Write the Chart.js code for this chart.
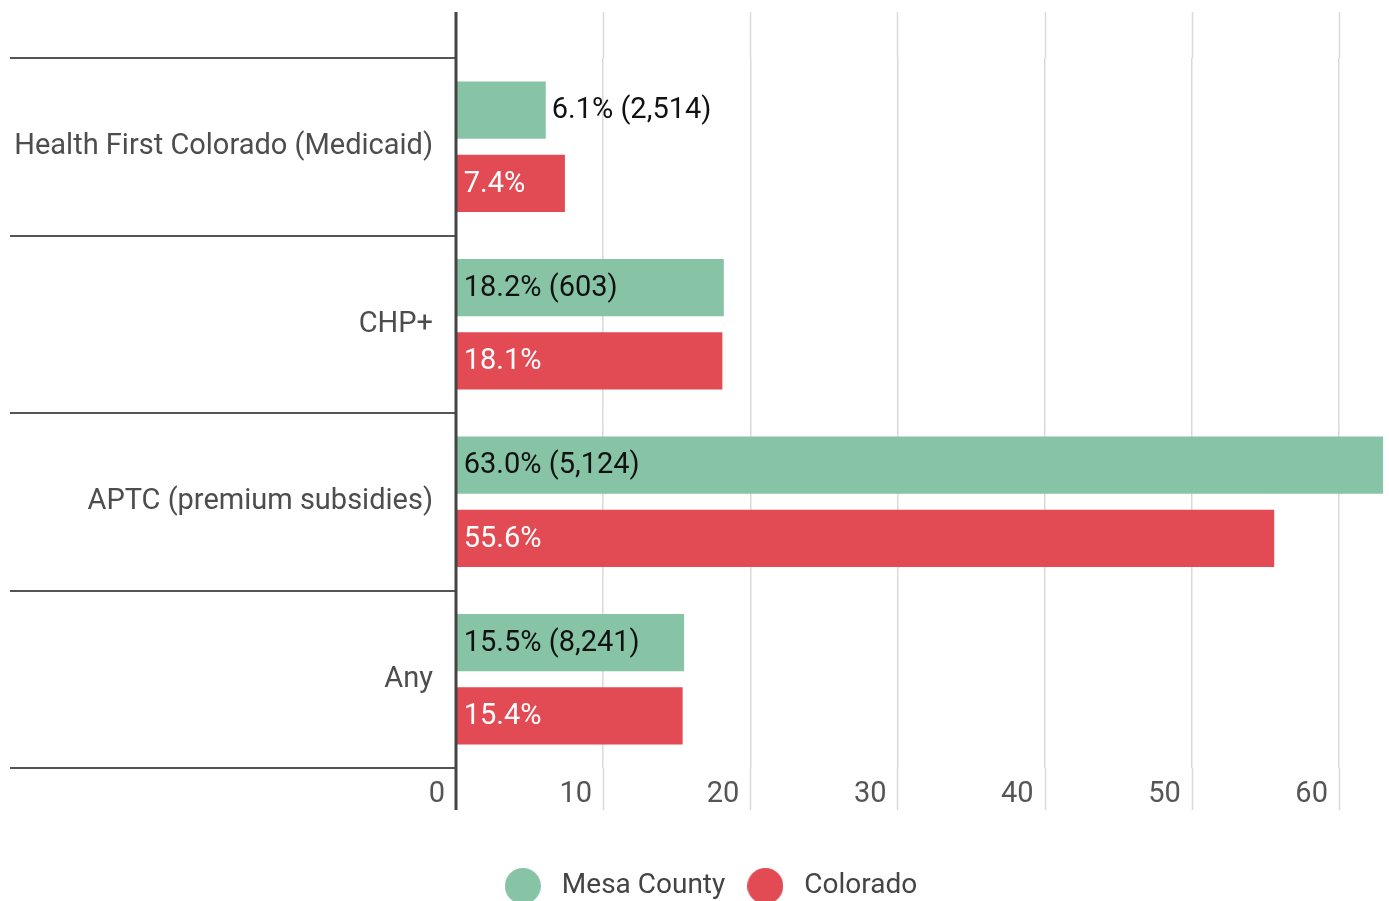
<!DOCTYPE html>
<html>
<head>
<meta charset="utf-8">
<script src="https://cdn.jsdelivr.net/npm/chart.js@4.4.1/dist/chart.umd.min.js"></script>
<style>
  body { margin: 0; background: #fff; }
  #wrap { width: 1389px; height: 901px; }
</style>
</head>
<body>
<div id="wrap"><canvas id="grafico" width="1389" height="901"></canvas></div>
<script>
// ---- DATOS ----
const categorias = ['Health First Colorado (Medicaid)', 'CHP+', 'APTC (premium subsidies)', 'Any']
const mesaCounty = [6.1, 18.2, 63.0, 15.5]
const mesaConteo = ['2,514', '603', '5,124', '8,241']
const colorado = [7.4, 18.1, 55.6, 15.4]
const ticksX = [0, 10, 20, 30, 40, 50, 60]

const verde = '#87c4a5'
const rojo = '#e24b53'
const fuente = 'Roboto, "Noto Sans", sans-serif'

// ---- circulos de la leyenda ----
function circulo(color) {
    const c = document.createElement('canvas')
    c.width = 36
    c.height = 36
    const ctx = c.getContext('2d')
    ctx.fillStyle = color
    ctx.beginPath()
    ctx.arc(18, 18, 18, 0, Math.PI * 2)
    ctx.fill()
    return c
}
const circulos = [circulo(verde), circulo(rojo)]

// ---- lineas extra de la grilla (arriba y abajo del area) ----
const extenderGrilla = {
    id: 'extenderGrilla',
    afterLayout(chart) {
        // la leyenda va un poco corrida a la derecha
        chart.legend.left += 8
        chart.legend.right += 8
    },
    beforeDatasetsDraw(chart) {
        const { ctx, chartArea, scales } = chart
        ctx.save()
        scales.x.ticks.forEach((t) => {
            if (t.value === 0) return
            const x = Math.round(scales.x.getPixelForValue(t.value)) + 0.5
            ctx.strokeStyle = '#d9d9d9'
            ctx.lineWidth = 1.5
            ctx.beginPath()
            ctx.moveTo(x, 12)
            ctx.lineTo(x, chartArea.top)
            ctx.moveTo(x, chartArea.bottom)
            ctx.lineTo(x, 810)
            ctx.stroke()
        })
        ctx.restore()
    },
    afterDatasetsDraw(chart) {
        const { ctx, scales } = chart
        const x0 = scales.x.getPixelForValue(0)
        ctx.save()
        ctx.strokeStyle = '#444'
        ctx.lineWidth = 3
        ctx.beginPath()
        ctx.moveTo(x0, 12)
        ctx.lineTo(x0, 810)
        ctx.stroke()
        ctx.restore()
    }
}

// ---- etiquetas de las barras ----
const etiquetas = {
    id: 'etiquetas',
    afterDatasetsDraw(chart) {
        const { ctx } = chart
        ctx.save()
        ctx.font = '29px ' + fuente
        ctx.textBaseline = 'middle'
        ctx.textAlign = 'left'
        chart.data.datasets.forEach((ds, i) => {
            const meta = chart.getDatasetMeta(i)
            meta.data.forEach((bar, j) => {
                const v = ds.data[j]
                let texto
                if (i === 0) {
                    texto = v.toFixed(1) + '% (' + mesaConteo[j] + ')'
                    ctx.fillStyle = '#111'
                } else {
                    texto = v.toFixed(1) + '%'
                    ctx.fillStyle = '#fff'
                }
                const w = ctx.measureText(texto).width
                let x = bar.base + 7
                if (w + 14 > bar.x - bar.base) {
                    x = bar.x + 6
                    ctx.fillStyle = '#111'
                }
                ctx.fillText(texto, x, bar.y + 1)
            })
        })
        ctx.restore()
    }
}

const config = {
    type: 'bar',
    data: {
        labels: categorias,
        datasets: [
            {
                label: 'Mesa County',
                data: mesaCounty,
                backgroundColor: verde,
                categoryPercentage: 0.826,
                barPercentage: 0.78
            },
            {
                label: 'Colorado',
                data: colorado,
                backgroundColor: rojo,
                categoryPercentage: 0.826,
                barPercentage: 0.78
            }
        ]
    },
    options: {
        indexAxis: 'y',
        responsive: false,
        animation: false,
        layout: { padding: { top: 58, left: 10, right: 0, bottom: -9 } },
        scales: {
            x: {
                min: 0,
                max: 63.4,
                afterBuildTicks: (scale) => {
                    scale.ticks = ticksX.map((v) => ({ value: v }))
                },
                afterFit: (scale) => { scale.height = 89 },
                grid: {
                    drawTicks: false,
                    color: (c) => c.tick && c.tick.value === 0 ? 'rgba(0,0,0,0)' : '#d9d9d9',
                    lineWidth: 1.5
                },
                border: { display: false },
                ticks: {
                    align: 'end',
                    labelOffset: -11,
                    padding: 9,
                    color: '#555',
                    font: { family: fuente, size: 29 }
                }
            },
            y: {
                afterFit: (scale) => { scale.width = 446 },
                grid: {
                    offset: true,
                    drawOnChartArea: false,
                    drawTicks: true,
                    tickLength: 446,
                    color: '#555',
                    lineWidth: 2
                },
                border: { display: false },
                ticks: {
                    padding: -423,
                    color: '#4d4d4d',
                    font: { family: fuente, size: 29 }
                }
            }
        },
        plugins: {
            legend: {
                position: 'bottom',
                labels: {
                    usePointStyle: true,
                    pointStyleWidth: 50,
                    padding: 15,
                    color: '#444',
                    font: { family: fuente, size: 28 },
                    generateLabels: (chart) => {
                        const items = Chart.defaults.plugins.legend.labels.generateLabels(chart)
                        items.forEach((it, i) => { it.pointStyle = circulos[i] })
                        return items
                    }
                }
            },
            tooltip: { enabled: false }
        }
    },
    plugins: [extenderGrilla, etiquetas]
}

new Chart(document.querySelector('#grafico'), config)
</script>
</body>
</html>
